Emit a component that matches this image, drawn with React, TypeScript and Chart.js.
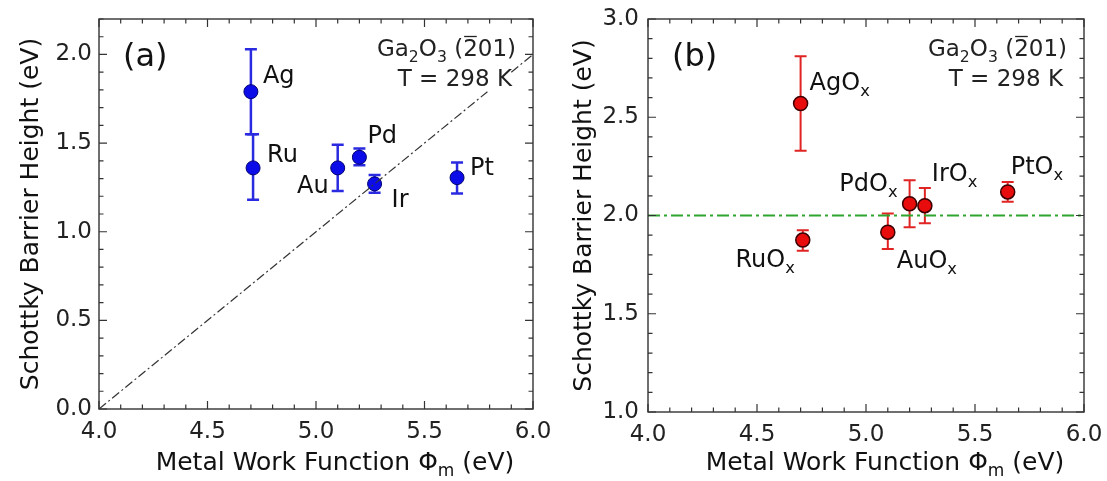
import React, { useEffect, useRef } from 'react';
import { Chart, registerables } from 'chart.js';
Chart.register(...registerables);

const FONT = '"DejaVu Sans", sans-serif';

// ---- Panel (a) data: metals ----
const metalsA = ['Ag', 'Ru', 'Au', 'Pd', 'Ir', 'Pt'];
const workFnA = [4.7, 4.71, 5.1, 5.2, 5.27, 5.65];
const sbhA = [1.79, 1.36, 1.36, 1.42, 1.27, 1.305];
const errLoA = [1.55, 1.18, 1.23, 1.375, 1.22, 1.215];
const errHiA = [2.03, 1.55, 1.49, 1.47, 1.32, 1.39];
// Schottky-Mott ideal line (gap where the annotation covers it)
const idealX = [4.0, 5.79, 5.85, 5.9, 6.0];
const idealY: (number | null)[] = [0.0, 1.79, null, 1.9, 2.0];

// ---- Panel (b) data: oxidized metals ----
const oxidesB = ['AgO', 'RuO', 'AuO', 'PdO', 'IrO', 'PtO'];
const workFnB = [4.7, 4.71, 5.1, 5.2, 5.27, 5.65];
const sbhB = [2.57, 1.875, 1.915, 2.06, 2.05, 2.12];
const errLoB = [2.33, 1.82, 1.83, 1.94, 1.96, 2.07];
const errHiB = [2.81, 1.925, 2.01, 2.18, 2.14, 2.17];
const meanLineX = [4.0, 6.0];
const meanLineY = [2.0, 2.0];

// axis ranges / ticks
const xRange = [4.0, 6.0];
const yRangeA = [0.0, 2.2];
const yRangeB = [1.0, 3.0];
const minorStep = 0.1;

// label placement (pixel offsets from the point)
const labelStyleA = [
  { dx: 12, dy: -17, align: 'left' },
  { dx: 14, dy: -15, align: 'left' },
  { dx: -9, dy: 16, align: 'right' },
  { dx: 8, dy: -23, align: 'left' },
  { dx: 17, dy: 14, align: 'left' },
  { dx: 13, dy: -11, align: 'left' },
];
const labelStyleB = [
  { dx: 9, dy: -22, align: 'left' },
  { dx: -8, dy: 18, align: 'right' },
  { dx: 9, dy: 27, align: 'left' },
  { dx: -12, dy: -21, align: 'right' },
  { dx: 7, dy: -33, align: 'left' },
  { dx: 3, dy: -27, align: 'left' },
];

type Seg = { t: string; sub?: boolean; over?: boolean };

function drawRich(ctx: CanvasRenderingContext2D, segs: Seg[], x: number, cy: number, size: number, align: string, color: string) {
  ctx.save();
  ctx.fillStyle = color;
  ctx.strokeStyle = color;
  ctx.textBaseline = 'alphabetic';
  ctx.textAlign = 'left';
  const subSize = size * 0.68;
  let total = 0;
  const widths = segs.map((s) => {
    ctx.font = `${s.sub ? subSize : size}px ${FONT}`;
    const w = ctx.measureText(s.t).width;
    total += w;
    return w;
  });
  let cx = align === 'left' ? x : align === 'right' ? x - total : x - total / 2;
  const base = cy + size * 0.36;
  segs.forEach((s, i) => {
    ctx.font = `${s.sub ? subSize : size}px ${FONT}`;
    const by = s.sub ? base + size * 0.25 : base;
    ctx.fillText(s.t, cx, by);
    if (s.over) {
      ctx.lineWidth = 1.3;
      ctx.beginPath();
      ctx.moveTo(cx + 1, base - size * 0.86);
      ctx.lineTo(cx + widths[i] - 1, base - size * 0.86);
      ctx.stroke();
    }
    cx += widths[i];
  });
  ctx.restore();
}

function makeTickCb() {
  return (v: any) => {
    const n = Number(v);
    return Math.abs(n * 2 - Math.round(n * 2)) < 1e-6 ? n.toFixed(1) : '';
  };
}

type PanelCfg = {
  yRange: number[];
  panel: string;
  xs: number[];
  ys: number[];
  lo: number[];
  hi: number[];
  names: string[];
  nameSub: boolean;
  labelStyle: any[];
  pointBg: string;
  pointBorder: string;
  pointBorderW: number;
  errColor: string;
  errWidth: number;
  lineData: any[];
  lineColor: string;
  lineWidth: number;
  lineDash: number[];
  padRight: number;
  xAxisH: number;
  yAxisW: number;
  yTickPad: number;
};

function buildChart(canvas: HTMLCanvasElement, cfg: PanelCfg) {
  const framePlugin = {
    id: 'frameTicks',
    afterDraw(chart: any) {
      const { ctx, chartArea: a, scales } = chart;
      const xs = scales.x;
      const ys = scales.y;
      ctx.save();
      ctx.strokeStyle = '#333';
      ctx.lineWidth = 1.4;
      ctx.strokeRect(a.left, a.top, a.right - a.left, a.bottom - a.top);
      ctx.lineWidth = 1.2;
      ctx.beginPath();
      const nx = Math.round((xRange[1] - xRange[0]) / minorStep);
      for (let i = 0; i <= nx; i++) {
        const v = xRange[0] + i * minorStep;
        const major = i % 5 === 0;
        const len = major ? 8 : 4.5;
        const px = xs.getPixelForValue(v);
        ctx.moveTo(px, a.bottom);
        ctx.lineTo(px, a.bottom - len);
        ctx.moveTo(px, a.top);
        ctx.lineTo(px, a.top + len);
      }
      const ny = Math.round((cfg.yRange[1] - cfg.yRange[0]) / minorStep);
      for (let i = 0; i <= ny; i++) {
        const v = cfg.yRange[0] + i * minorStep;
        const major = i % 5 === 0;
        const len = major ? 8 : 4.5;
        const py = ys.getPixelForValue(v);
        ctx.moveTo(a.left, py);
        ctx.lineTo(a.left + len, py);
        ctx.moveTo(a.right, py);
        ctx.lineTo(a.right - len, py);
      }
      ctx.stroke();
      ctx.restore();

      // x-axis title with subscript
      const cxTitle = (a.left + a.right) / 2 + 19;
      drawRich(ctx, [{ t: 'Metal Work Function Φ' }, { t: 'm', sub: true }, { t: ' (eV)' }], cxTitle, 461, 25, 'center', '#111');

      // panel letter and annotation
      drawRich(ctx, [{ t: cfg.panel }], a.left + 24, a.top + 35, 32, 'left', '#111');
      drawRich(ctx, [{ t: 'Ga' }, { t: '2', sub: true }, { t: 'O' }, { t: '3', sub: true }, { t: ' (' }, { t: '2', over: true }, { t: '01)' }], a.right - 17, a.top + 29, 23, 'right', '#222');
      drawRich(ctx, [{ t: 'T = 298 K' }], a.right - 21, a.top + 59, 23, 'right', '#222');
    },
  };

  const errPlugin = {
    id: 'errBars',
    beforeDatasetsDraw(chart: any) {
      const { ctx, scales } = chart;
      ctx.save();
      ctx.strokeStyle = cfg.errColor;
      ctx.lineWidth = cfg.errWidth;
      cfg.xs.forEach((xv, i) => {
        const px = scales.x.getPixelForValue(xv);
        const pl = scales.y.getPixelForValue(cfg.lo[i]);
        const ph = scales.y.getPixelForValue(cfg.hi[i]);
        ctx.beginPath();
        ctx.moveTo(px, pl);
        ctx.lineTo(px, ph);
        ctx.moveTo(px - 6, pl);
        ctx.lineTo(px + 6, pl);
        ctx.moveTo(px - 6, ph);
        ctx.lineTo(px + 6, ph);
        ctx.stroke();
      });
      ctx.restore();
    },
    afterDatasetsDraw(chart: any) {
      const { ctx, scales } = chart;
      cfg.names.forEach((nm, i) => {
        const px = scales.x.getPixelForValue(cfg.xs[i]);
        const py = scales.y.getPixelForValue(cfg.ys[i]);
        const st = cfg.labelStyle[i];
        const segs: Seg[] = cfg.nameSub ? [{ t: nm }, { t: 'x', sub: true }] : [{ t: nm }];
        drawRich(ctx, segs, px + st.dx, py + st.dy, 24, st.align, '#111');
      });
    },
  };

  return new Chart(canvas, {
    type: 'scatter',
    data: {
      datasets: [
        {
          data: cfg.lineData,
          showLine: true,
          pointRadius: 0,
          borderColor: cfg.lineColor,
          borderWidth: cfg.lineWidth,
          borderDash: cfg.lineDash,
          spanGaps: false,
        } as any,
        {
          data: cfg.xs.map((x, i) => ({ x, y: cfg.ys[i] })),
          pointRadius: 7,
          pointBackgroundColor: cfg.pointBg,
          pointBorderColor: cfg.pointBorder,
          pointBorderWidth: cfg.pointBorderW,
        },
      ],
    },
    options: {
      animation: false,
      responsive: false,
      events: [],
      layout: { padding: { top: 19, right: cfg.padRight, left: 0, bottom: 0 } },
      plugins: { legend: { display: false }, tooltip: { enabled: false } },
      scales: {
        x: {
          type: 'linear',
          min: xRange[0],
          max: xRange[1],
          grid: { display: false, drawTicks: false },
          border: { display: false },
          ticks: {
            stepSize: minorStep,
            autoSkip: false,
            maxRotation: 0,
            callback: makeTickCb(),
            font: { family: FONT, size: 23 },
            color: '#222',
            padding: 9,
          },
          afterFit: (s: any) => {
            s.height = cfg.xAxisH;
            s.paddingLeft = 0;
            s.paddingRight = 0;
          },
        },
        y: {
          type: 'linear',
          min: cfg.yRange[0],
          max: cfg.yRange[1],
          grid: { display: false, drawTicks: false },
          border: { display: false },
          ticks: {
            stepSize: minorStep,
            autoSkip: false,
            callback: makeTickCb(),
            font: { family: FONT, size: 23 },
            color: '#222',
            padding: cfg.yTickPad,
          },
          title: {
            display: true,
            text: 'Schottky Barrier Height (eV)',
            font: { family: FONT, size: 25 },
            color: '#111',
            padding: { top: 16, bottom: 0 },
          },
          afterFit: (s: any) => {
            s.width = cfg.yAxisW;
            s.paddingTop = 0;
            s.paddingBottom = 0;
          },
        },
      },
    } as any,
    plugins: [framePlugin, errPlugin],
  });
}

export default function App() {
  const refA = useRef<HTMLCanvasElement>(null);
  const refB = useRef<HTMLCanvasElement>(null);

  useEffect(() => {
    const a = buildChart(refA.current!, {
      yRange: yRangeA,
      panel: '(a)',
      xs: workFnA,
      ys: sbhA,
      lo: errLoA,
      hi: errHiA,
      names: metalsA,
      nameSub: false,
      labelStyle: labelStyleA,
      pointBg: '#0c0ce8',
      pointBorder: '#000070',
      pointBorderW: 1,
      errColor: '#2a2ae0',
      errWidth: 2.5,
      lineData: idealX.map((x, i) => ({ x, y: idealY[i] })),
      lineColor: '#333',
      lineWidth: 1.2,
      lineDash: [9, 3, 2, 3],
      padRight: 20,
      xAxisH: 72,
      yAxisW: 99,
      yTickPad: 7,
    });
    const b = buildChart(refB.current!, {
      yRange: yRangeB,
      panel: '(b)',
      xs: workFnB,
      ys: sbhB,
      lo: errLoB,
      hi: errHiB,
      names: oxidesB,
      nameSub: true,
      labelStyle: labelStyleB,
      pointBg: '#e80c0c',
      pointBorder: '#3a0000',
      pointBorderW: 1.5,
      errColor: '#e02424',
      errWidth: 2,
      lineData: meanLineX.map((x, i) => ({ x, y: meanLineY[i] })),
      lineColor: '#2fa52f',
      lineWidth: 2,
      lineDash: [12, 4, 3, 4],
      padRight: 23,
      xAxisH: 69,
      yAxisW: 95,
      yTickPad: 9,
    });
    return () => {
      a.destroy();
      b.destroy();
    };
  }, []);

  return (
    <div style={{ position: 'absolute', left: 0, top: 0, width: 1107, height: 481, background: '#fff', fontFamily: FONT }}>
      <canvas ref={refA} width={553} height={481} style={{ position: 'absolute', left: 0, top: 0 }} />
      <canvas ref={refB} width={554} height={481} style={{ position: 'absolute', left: 553, top: 0 }} />
    </div>
  );
}
